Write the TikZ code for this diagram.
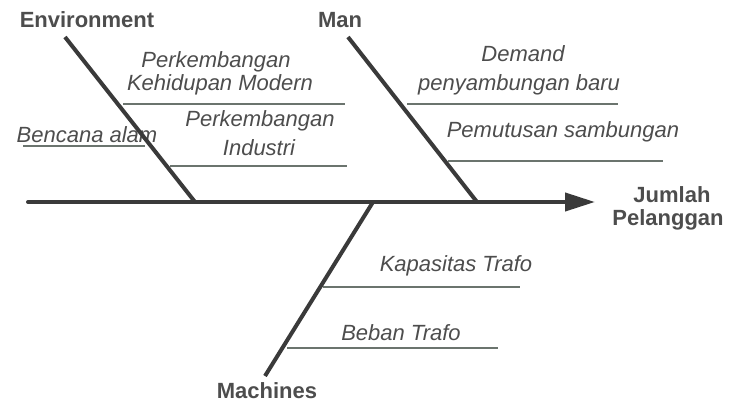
\documentclass[tikz,border=0pt]{standalone}
\usepackage{fontspec}
\setmainfont{Liberation Sans}
\usetikzlibrary{arrows.meta}
\definecolor{ink}{HTML}{4D4D4D}
\definecolor{bone}{HTML}{3A3A3A}
\definecolor{rule}{HTML}{6B746E}
\begin{document}
\begin{tikzpicture}[x=1pt,y=-1pt,
  head/.style={font=\fontsize{22}{26}\selectfont\bfseries, text=ink, inner sep=0pt, anchor=base},
  cause/.style={font=\fontsize{22}{26}\selectfont\itshape, text=ink, inner sep=0pt, anchor=base},
  bonestyle/.style={draw=bone, line width=4pt},
  subline/.style={draw=rule, line width=1.3pt}]
\useasboundingbox (0,0) rectangle (731,404);

% category headings and the effect
\node[head] (env)  at (87,28)   {Environment};
\node[head] (man)  at (340,28)  {Man};
\node[head] (mach) at (267,398) {Machines};
\node[head] (eff1) at (672,202) {Jumlah};
\node[head] (eff2) at (668,225) {Pelanggan};

% causes
\node[cause] (p1a)  at (216,67)  {Perkembangan};
\node[cause] (p1b)  at (220,91)  {Kehidupan Modern};
\node[cause] (ben)  at (87,142)  {Bencana alam};
\node[cause] (p2a)  at (260,126) {Perkembangan};
\node[cause] (p2b)  at (259,155) {Industri};
\node[cause] (dem1) at (523,62)  {Demand};
\node[cause] (dem2) at (519,90)  {penyambungan baru};
\node[cause] (pem)  at (563,137) {Pemutusan sambungan};
\node[cause] (kap)  at (456,271) {Kapasitas Trafo};
\node[cause] (beb)  at (401,340) {Beban Trafo};

% rules under the causes
\draw[subline] (123,104) -- (345,104);
\draw[subline] (23,146)  -- (145,146);
\draw[subline] (170,166) -- (347,166);
\draw[subline] (407,104) -- (618,104);
\draw[subline] (448,161) -- (663,161);
\draw[subline] (323,287) -- (520,287);
\draw[subline] (287,348) -- (498,348);

% bones
\coordinate (tail)     at (28,202);
\coordinate (tip)      at (595,202);
\coordinate (envtop)   at (65,37);
\coordinate (envfoot)  at (195,202);
\coordinate (mantop)   at (348,37);
\coordinate (manfoot)  at (477,202);
\coordinate (machtop)  at (373,202);
\coordinate (machfoot) at (265,376);

\draw[bonestyle] (envtop) -- (envfoot);
\draw[bonestyle] (mantop) -- (manfoot);
\draw[bonestyle] (machtop) -- (machfoot);
\draw[bonestyle, line cap=round, -{Triangle[length=30pt,width=18pt]}] (tail) -- (tip);
\end{tikzpicture}
\end{document}
